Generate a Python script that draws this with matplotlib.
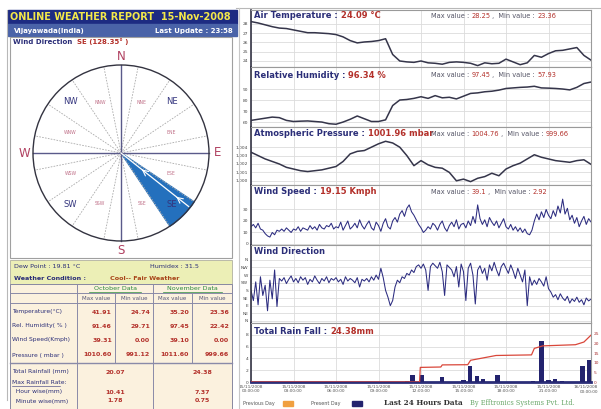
import matplotlib
matplotlib.use("Agg")
import matplotlib.pyplot as plt
import numpy as np
from matplotlib.patches import Rectangle, Polygon, Circle

W, H = 601, 409

# ---------------- data ----------------
half_hours = np.arange(49) * 0.5
air_temp = [28.25, 28.1, 27.9, 27.7, 27.55, 27.5, 27.35, 27.2, 27.05, 27.05,
            27.0, 26.95, 26.85, 26.6, 26.2, 25.95, 26.05, 26.1, 26.2, 26.4,
            24.7, 24.0, 23.9, 23.85, 24.0, 23.8, 23.75, 23.65, 23.85, 23.9,
            23.85, 23.75, 23.5, 23.8, 23.7, 23.75, 24.2, 23.9, 23.6, 23.8,
            24.6, 24.4, 24.8, 25.1, 25.15, 25.3, 25.45, 24.6, 24.09]
rel_hum = [61.5, 62.5, 63.5, 64.5, 64.0, 61.5, 60.5, 60.8, 61.0, 60.5,
           60.0, 58.5, 58.0, 60.0, 62.5, 65.5, 63.0, 60.5, 60.5, 62.0,
           75.0, 80.0, 80.5, 81.5, 83.0, 81.5, 84.0, 82.0, 82.5, 81.0,
           83.5, 86.0, 86.5, 87.5, 88.0, 89.0, 90.5, 91.0, 91.5, 91.8,
           92.5, 91.0, 90.8, 90.5, 90.0, 89.2, 91.5, 95.0, 96.34]
pressure = [1003.4, 1003.0, 1002.6, 1002.3, 1002.0, 1001.6, 1001.4, 1001.2, 1001.1, 1001.2,
            1001.3, 1001.5, 1001.7, 1002.3, 1003.2, 1003.5, 1003.6, 1004.0, 1004.4, 1004.7,
            1004.5, 1004.0, 1003.0, 1001.8, 1002.4, 1001.9, 1001.6, 1001.5, 1001.0, 1000.0,
            1000.2, 999.9, 1000.3, 1000.5, 1000.9, 1000.6, 1001.4, 1001.8, 1002.1, 1002.6,
            1003.1, 1002.8, 1002.6, 1002.4, 1002.3, 1002.2, 1002.4, 1002.5, 1001.96]

ten_min = np.arange(145) / 6.0
wind_speed = [15, 17, 14, 18, 13, 12, 9,
              7, 6, 10, 8, 12, 11,
              13, 11, 14, 12, 10, 13,
              12, 15, 11, 14, 13, 12,
              16, 13, 15, 12, 17, 14,
              13, 16, 15, 18, 13, 15,
              14, 19, 12, 16, 20, 13,
              15, 18, 14, 21, 16, 13,
              17, 20, 14, 12, 19, 16,
              11, 18, 22, 15, 13, 20,
              23, 19, 26, 29, 24, 31,
              34, 28, 25, 21, 17, 14,
              10, 12, 15, 13, 18, 16,
              12, 17, 20, 14, 11, 16,
              19, 15, 21, 13, 17, 18,
              14, 20, 16, 24, 18, 34,
              22, 17, 21, 15, 23, 19,
              16, 20, 14, 18, 22, 15,
              13, 17, 12, 15, 11, 14,
              10, 13, 9, 8, 12, 20,
              26, 21, 28, 23, 30, 25,
              22, 29, 24, 33, 27, 39,
              26, 31, 21, 25, 18, 23,
              15, 20, 24, 17, 22, 19.15]
wind_dir = [180, 120, 230, 95, 260, 150, 210,
            60, 240, 130, 300, 85, 250,
            235, 255, 220, 245, 265, 230,
            250, 225, 260, 240, 255, 215,
            245, 230, 265, 240, 220, 250,
            235, 260, 225, 250, 240, 255,
            230, 245, 215, 260, 235, 250,
            240, 225, 255, 200, 245, 235,
            250, 230, 260, 240, 270, 245,
            310, 255, 180, 140, 90, 120,
            200, 240, 225, 260, 250, 280,
            270, 300, 285, 320, 330, 310,
            335, 300, 180, 320, 340, 325,
            310, 345, 290, 150, 330, 315,
            300, 260, 320, 200, 335, 290,
            120, 310, 340, 270, 100, 300,
            325, 280, 310, 240, 330, 295,
            345, 300, 265, 320, 340, 310,
            280, 330, 295, 250, 310, 270,
            230, 300, 90, 260, 210, 240,
            215, 250, 230, 205, 260, 190,
            170, 140, 155, 125, 160, 135,
            120, 145, 105, 130, 115, 140,
            110, 125, 95, 135, 118, 128.35]

rain_hours = [11.0, 11.4, 12.07, 13.5, 15.0, 15.45, 15.95, 16.4, 17.4,
              19.9, 20.5, 21.0, 21.45, 21.95, 23.4, 23.85]
rain_rate = [0.1, 1.2, 1.2, 0.8, 0.3, 2.7, 1.0, 0.5, 1.2,
             0.1, 7.0, 0.3, 0.5, 0.2, 2.7, 3.7]
cum_hours = [0.0, 11.9, 11.95, 13.4, 13.5, 15.3, 15.5, 17.3, 19.8, 20.0, 20.6, 22.9, 23.5, 24.0]
cum_rain = [0.0, 0.0, 7.6, 7.8, 8.9, 9.0, 11.3, 13.8, 14.1, 17.5, 18.8, 19.4, 20.8, 24.38]

time_ticks = [0, 3, 6, 9, 12, 15, 18, 21, 24]
time_labels = ["15/11/2008\n00:00:00", "15/11/2008\n03:00:00", "15/11/2008\n06:00:00",
               "15/11/2008\n09:00:00", "15/11/2008\n12:00:00", "15/11/2008\n15:00:00",
               "15/11/2008\n18:00:00", "15/11/2008\n21:00:00", "16/11/2008\n00:00:00"]
dir_ticks = [0, 45, 90, 135, 180, 225, 270, 315, 360]
dir_labels = ["N", "NE", "E", "SE", "S", "SW", "W", "NW", "N"]

row_labels = ["Temperature(°C)", "Rel. Humidity( % )", "Wind Speed(Kmph)", "Pressure ( mbar )"]
oct_max = ["41.91", "91.46", "39.31", "1010.60"]
oct_min = ["24.74", "29.71", "0.00", "991.12"]
nov_max = ["35.20", "97.45", "39.10", "1011.60"]
nov_min = ["23.36", "22.42", "0.00", "999.66"]
rain_row_labels = ["Total Rainfall (mm)", "Max Rainfall Rate:", "  Hour wise(mm)", "  Minute wise(mm)"]
oct_rain = ["20.07", "", "10.41", "1.78"]
nov_rain = ["24.38", "", "7.37", "0.75"]

NAVY = "#2b2e78"
RED = "#b3302a"
LINE = "#35354a"
WLINE = "#2c2c80"
GRID = "#dcdcdc"

fig = plt.figure(figsize=(W / 100, H / 100), dpi=100)
fig.patch.set_facecolor("white")

X0, X1 = 251, 591


def panel(ytop, ybot, ylim, ticks, ticklabels=None):
    ax = fig.add_axes([X0 / W, 1 - ybot / H, (X1 - X0) / W, (ybot - ytop) / H])
    ax.set_xlim(0, 24)
    ax.set_ylim(*ylim)
    ax.set_xticks(time_ticks)
    ax.set_yticks(ticks)
    if ticklabels is not None:
        ax.set_yticklabels(ticklabels)
    ax.grid(True, color=GRID, lw=0.6)
    ax.set_axisbelow(True)
    ax.tick_params(axis="y", labelsize=3.2, length=0, pad=2, labelcolor="#444444")
    ax.tick_params(axis="x", length=0, labelbottom=False)
    for s in ax.spines.values():
        s.set_color("#9a9a9a")
        s.set_linewidth(0.8)
    ax.spines["left"].set_color("#333344")
    ax.spines["left"].set_linewidth(1.2)
    return ax


ax1 = panel(10, 67, (23.35, 29.5), [24, 25, 26, 27, 28])
ax1.plot(half_hours, air_temp, color=LINE, lw=1.1)

ax2 = panel(67, 127, (55.5, 110), [60, 70, 80, 90])
ax2.plot(half_hours, rel_hum, color=LINE, lw=1.1)

ax3 = panel(127, 185, (999.5, 1006.4), [1000, 1001, 1002, 1003, 1004],
            ["1,000", "1,001", "1,002", "1,003", "1,004"])
ax3.plot(half_hours, pressure, color=LINE, lw=1.1)

ax4 = panel(185, 245, (-0.9, 51.3), [0, 10, 20, 30])
ax4.plot(ten_min, wind_speed, color=WLINE, lw=0.75)

ax5 = panel(245, 323, (-12, 447), dir_ticks, dir_labels)
ax5.plot(ten_min, wind_dir, color=WLINE, lw=0.75)

ax6 = panel(323, 382, (0, 10), [0, 2, 4, 6, 8])
ax6.bar(rain_hours, rain_rate, width=0.3, color="#23236e", zorder=3)
ax6.spines["bottom"].set_color(NAVY)
ax6.spines["bottom"].set_linewidth(2)
ax6.tick_params(axis="x", labelbottom=True, labelsize=3.1, pad=2, labelcolor="#555555")
ax6.set_xticklabels(time_labels[:-1] + [""])
ax6b = ax6.twinx()
ax6b.set_ylim(0, 30.7)
ax6b.set_yticks([0, 5, 10, 15, 20, 25])
ax6b.tick_params(axis="y", labelsize=3.2, length=0, pad=2, labelcolor="#aa3333")
ax6b.plot(cum_hours, cum_rain, color="#d9473a", lw=0.9, zorder=4)
for s in ax6b.spines.values():
    s.set_visible(False)

# ---------------- overlay in pixel coordinates ----------------
px = fig.add_axes([0, 0, 1, 1], zorder=10)
px.set_xlim(0, W)
px.set_ylim(H, 0)
px.axis("off")
px.patch.set_alpha(0)

# last time label, kept inside the picture
px.text(598, 389.5, time_labels[-1], fontsize=3.1, color="#555555", ha="right",
        va="center", linespacing=1.2)

# frame
px.plot([236, 601], [7.5, 7.5], color="#b8b8b8", lw=0.8)
px.plot([6.5, 6.5], [10, 400], color="#b8b8b8", lw=0.8)
px.plot([238.5, 238.5], [8, 409], color="#c8c8c8", lw=0.8)


def header(y, name, value, vmax=None, vmin=None):
    t = px.text(254, y, name, color=NAVY, fontsize=6, fontweight="bold", va="center")
    px.annotate(value, xy=(1, 0.5), xycoords=t, va="center", color=RED,
                fontsize=6, fontweight="bold")
    if vmax is not None:
        a = px.text(431, y, "Max value : ", color="#555566", fontsize=4.8, va="center")
        b = px.annotate(vmax, xy=(1, 0.5), xycoords=a, va="center", color=RED, fontsize=4.8)
        c = px.annotate(" ,  Min value : ", xy=(1, 0.5), xycoords=b, va="center",
                        color="#555566", fontsize=4.8)
        px.annotate(vmin, xy=(1, 0.5), xycoords=c, va="center", color=RED, fontsize=4.8)


header(16, "Air Temperature : ", "24.09 °C", "28.25", "23.36")
header(75, "Relative Humidity : ", "96.34 %", "97.45", "57.93")
header(134, "Atmospheric Pressure : ", "1001.96 mbar", "1004.76", "999.66")
header(192, "Wind Speed : ", "19.15 Kmph", "39.1", "2.92")
header(252, "Wind Direction", "")
header(331, "Total Rain Fall : ", "24.38mm")

# bottom legend
px.text(243, 404, "Previous Day", fontsize=3.5, color="#555555", va="center")
px.add_patch(Rectangle((283, 401), 10, 5, color="#f0a040"))
px.text(311, 404, "Present Day", fontsize=3.5, color="#555555", va="center")
px.add_patch(Rectangle((352, 401), 10, 5, color="#23236e"))
px.text(384, 403, "Last 24 Hours Data", fontsize=5.2, fontweight="bold",
        family="DejaVu Serif", color="#333333", va="center")
px.text(470, 403, "By Efftronics Systems Pvt. Ltd.", fontsize=4.8,
        family="DejaVu Serif", color="#6aa86a", va="center")

# ---------------- left panel ----------------
px.add_patch(Rectangle((8, 10), 229, 14, color="#1d2b82"))
px.text(10, 17.5, "ONLINE WEATHER REPORT  15-Nov-2008", color="#f3e84a",
        fontsize=7, fontweight="bold", va="center")
px.add_patch(Rectangle((8, 24), 229, 12, color="#4a63a8"))
px.text(14, 30.5, "Vijayawada(India)", color="white", fontsize=5, fontweight="bold", va="center")
px.text(233, 30.5, "Last Update : 23:58", color="white", fontsize=5, fontweight="bold",
        va="center", ha="right")

px.add_patch(Rectangle((10, 37), 222, 221, facecolor="white", edgecolor="#a0a0a0", lw=0.8))
t = px.text(13, 42, "Wind Direction  ", color=NAVY, fontsize=5, fontweight="bold", va="center")
px.annotate("SE (128.35° )", xy=(1, 0.5), xycoords=t, va="center", color=RED,
            fontsize=5, fontweight="bold")

cx, cy, r = 121, 153, 88


def pt(bearing, rad):
    b = np.radians(bearing)
    return cx + rad * np.sin(b), cy - rad * np.cos(b)


# SE sector wedge
wedge = [pt(0, 0)] + [pt(b, r) for b in np.linspace(123.75, 146.25, 20)]
px.add_patch(Polygon(wedge, closed=True, color="#2470bd", zorder=2))

for k in range(16):
    b = 11.25 + 22.5 * k
    x, y = pt(b, r)
    px.plot([cx, x], [cy, y], color="#aaaaaa", lw=0.6, ls=(0, (2, 1.5)), zorder=3)
px.plot([cx - r, cx + r], [cy, cy], color="#5a5a8a", lw=1.0, zorder=3)
px.plot([cx, cx], [cy - r, cy + r], color="#5a5a8a", lw=1.0, zorder=3)
px.add_patch(Circle((cx, cy), r, fill=False, edgecolor="#333340", lw=1.0, zorder=4))

for name, b in [("N", 0), ("E", 90), ("S", 180), ("W", 270)]:
    x, y = pt(b, r + 9)
    px.text(x, y, name, color="#b04060", fontsize=8.5, ha="center", va="center")
for name, b in [("NE", 45), ("SE", 135), ("SW", 225), ("NW", 315)]:
    x, y = pt(b, r * 0.82)
    px.text(x, y, name, color="#34357e", fontsize=6, ha="center", va="center", zorder=5)
for name, b in [("NNE", 22.5), ("ENE", 67.5), ("ESE", 112.5), ("SSE", 157.5),
                ("SSW", 202.5), ("WSW", 247.5), ("WNW", 292.5), ("NNW", 337.5)]:
    x, y = pt(b, r * 0.62)
    px.text(x, y, name, color="#c07088", fontsize=3.3, ha="center", va="center", zorder=5)

# direction pointer
x_end, y_end = pt(128.35, r * 0.98)
px.plot([cx, x_end], [cy, y_end], color="white", lw=0.9, zorder=5)
for f in (0.35, 0.85):
    x_a, y_a = pt(128.35, r * f)
    x_b, y_b = pt(128.35, r * (f - 0.08))
    px.annotate("", xy=(x_b, y_b), xytext=(x_a, y_a), zorder=6,
                arrowprops=dict(arrowstyle="->", color="white", lw=0.8))

# dew point / condition rows
px.add_patch(Rectangle((10, 260), 222, 24, facecolor="#ecefb6", edgecolor="#b0b0a0", lw=0.6))
px.text(14, 266, "Dew Point : 19.81 °C", color=NAVY, fontsize=4.6, va="center")
px.text(150, 266, "Humidex : 31.5", color=NAVY, fontsize=4.6, va="center")
px.text(14, 278, "Weather Condition :", color=NAVY, fontsize=4.6, fontweight="bold", va="center")
px.text(110, 278, "Cool-- Fair Weather", color="#a8451a", fontsize=4.6, fontweight="bold",
        va="center")

# table
TL, C1, C2, C3, C4, TR = 10, 77, 115, 153, 192, 232
px.add_patch(Rectangle((TL, 284), TR - TL, 126, facecolor="#fbf1de", edgecolor="#8888a0", lw=0.7))
BORD = "#8a8aa8"
for yy in (293, 303, 363):
    px.plot([TL, TR], [yy, yy], color=BORD, lw=0.7 if yy != 363 else 1.0)
for xx in (C1, C3):
    px.plot([xx, xx], [284, 409], color=BORD, lw=0.7)
for xx in (C2, C4):
    px.plot([xx, xx], [293, 363], color=BORD, lw=0.7)

px.text((C1 + C3) / 2, 288.5, "October Data", color="#2a8a3a", fontsize=4.6, ha="center",
        va="center")
px.plot([C1 + 12, C3 - 12], [292, 292], color="#2a8a3a", lw=0.5)
px.text((C3 + TR) / 2, 288.5, "November Data", color="#2a8a3a", fontsize=4.6, ha="center",
        va="center")
px.plot([C3 + 10, TR - 10], [292, 292], color="#2a8a3a", lw=0.5)
for a, b in [(C1, C2), (C2, C3), (C3, C4), (C4, TR)]:
    lab = "Max value" if a in (C1, C3) else "Min value"
    px.text((a + b) / 2, 298, lab, color="#555577", fontsize=4.0, ha="center", va="center")

row_y = [312, 326, 340, 355]
for i, y in enumerate(row_y):
    px.text(12, y, row_labels[i], color=NAVY, fontsize=4.3, va="center")
    for edge, vals in [(C2, oct_max), (C3, oct_min), (C4, nov_max), (TR, nov_min)]:
        px.text(edge - 3, y, vals[i], color=RED, fontsize=4.5, fontweight="bold",
                ha="right", va="center")

rain_y = [372, 382, 392, 401]
for i, y in enumerate(rain_y):
    px.text(12, y, rain_row_labels[i], color=NAVY, fontsize=4.3, va="center")
    px.text((C1 + C3) / 2, y, oct_rain[i], color=RED, fontsize=4.5, fontweight="bold",
            ha="center", va="center")
    px.text((C3 + TR) / 2 + 10, y, nov_rain[i], color=RED, fontsize=4.5, fontweight="bold",
            ha="center", va="center")
px.plot([12, 60], [385.5, 385.5], color=NAVY, lw=0.4)

fig.savefig("out.png", dpi=100)
